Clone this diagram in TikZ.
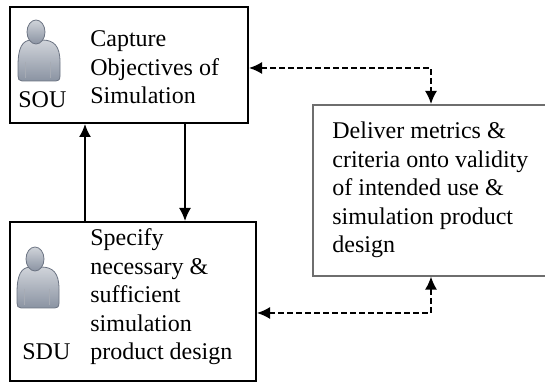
\documentclass[tikz,border=0pt]{standalone}
\usepackage{fontspec}
\setmainfont{Liberation Serif}
\usepackage{xcolor}
\usepackage{tikz}
\usetikzlibrary{arrows.meta,positioning}

\definecolor{usergray}{HTML}{8A93A2}
\definecolor{userline}{HTML}{6B7382}
\definecolor{boxgray}{HTML}{6E6E6E}

% user icon, head centre at (#1,#2)
\newcommand{\usericon}[2]{%
\begin{scope}[shift={(#1,#2)}]
\draw[icon] (-18,34) .. controls (-18,16) and (-14,8) .. (-4,8) -- (6,8) .. controls (18,8) and (24,14) .. (24,30) -- (24,44) .. controls (24,48) and (22,49) .. (20,49) -- (-14,49) .. controls (-17,49) and (-18,47) .. (-18,44) -- cycle;
\draw[userline!60,line width=0.3pt] (-11,30) -- (-11,46) (14,30) -- (14,46);
\draw[icon] (0,0) ellipse (9 and 12);
\end{scope}}

\begin{document}
\begin{tikzpicture}[x=0.5pt,y=-0.5pt,inner sep=0pt,
  box/.style={draw=black,line width=1pt,minimum width=#1,anchor=north west},
  txt/.style={align=left,anchor=base west,font=\fontsize{12}{14.3}\selectfont},
  icon/.style={draw=userline,line width=0.4pt,top color=usergray!40,bottom color=usergray},
  flow/.style={->,line width=0.8pt,>={Latex[length=6.5pt,width=6pt]}},
  link/.style={<->,dashed,dash pattern=on 3pt off 1.5pt,line width=0.8pt,>={Latex[length=6.5pt,width=6pt]}}]
\useasboundingbox (0,0) rectangle (545,383);

\node[box=119pt,minimum height=58pt] (SOU) at (9,6) {};
\node[box=123pt,minimum height=79.5pt] (SDU) at (9,221) {};
\node[box=125pt,minimum height=85.5pt,draw=boxgray,line width=0.8pt] (DEL) at (312,104) {};

\usericon{36}{32}
\usericon{35}{259}

% base anchor sits on the last line
\node[txt] (sou) at (18,108) {SOU};
\node[txt] (capture) at (90,104) {Capture\\Objectives of\\Simulation};
\node[txt] (sdu) at (22,360) {SDU};
\node[txt] (specify) at (90,360) {Specify\\necessary \&\\sufficient\\simulation\\product design};
\node[txt] (deliver) at (332,253) {Deliver metrics \&\\criteria onto validity\\of intended use \&\\simulation product\\design};

\draw[flow] ([xshift=38pt]SDU.north west) -- ([xshift=38pt]SOU.south west);
\draw[flow] ([xshift=88pt]SOU.south west) -- ([xshift=88pt]SDU.north west);
\draw[link] ([yshift=-1.5pt]SOU.east) -| ([xshift=59.5pt]DEL.north west);
\draw[link] ([yshift=-5.75pt]SDU.east) -| ([xshift=59.5pt]DEL.south west);
\end{tikzpicture}
\end{document}
